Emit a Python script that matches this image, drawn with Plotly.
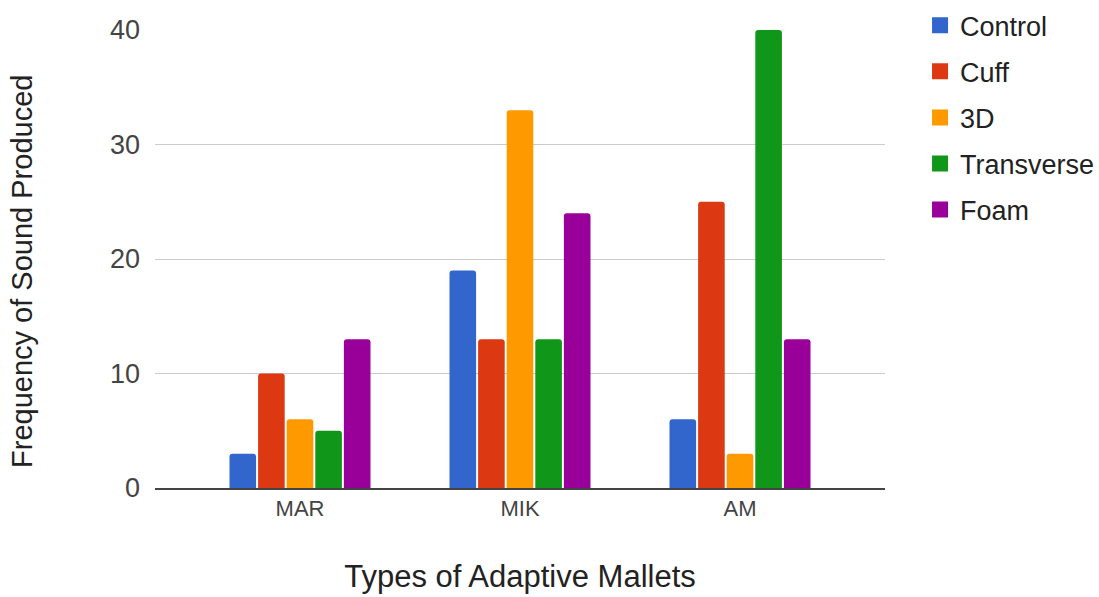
import plotly.graph_objects as go

categories = ["MAR", "MIK", "AM"]
series_names = ["Control", "Cuff", "3D", "Transverse", "Foam"]
control = [3, 19, 6]
cuff = [10, 13, 25]
three_d = [6, 33, 3]
transverse = [5, 13, 40]
foam = [13, 24, 13]
y_ticks = [0, 10, 20, 30, 40]

colors = ["#3366cc", "#dc3912", "#ff9900", "#109618", "#990099"]
values = [control, cuff, three_d, transverse, foam]

fig = go.Figure()
for name, vals, col in zip(series_names, values, colors):
    fig.add_trace(go.Bar(x=categories, y=vals, name=name, marker_color=col,
                         marker_line_width=0, showlegend=False, legendgroup=name))
    # square legend swatch
    fig.add_trace(go.Scatter(x=[None], y=[None], mode="markers", name=name,
                             legendgroup=name,
                             marker=dict(symbol="square", size=21, color=col)))

font_family = "Liberation Sans, Arial, sans-serif"
fig.update_layout(
    width=1099, height=597,
    margin=dict(l=155, r=214, t=30, b=109, autoexpand=False),
    paper_bgcolor="white", plot_bgcolor="white",
    barmode="group", bargap=0.35, bargroupgap=0.07, barcornerradius=3,
    font=dict(family=font_family, color="#444444"),
    xaxis=dict(
        range=[-0.659, 2.659],
        tickfont=dict(size=22, color="#444444"),
        showgrid=False, showline=True, linecolor="#444444", linewidth=2,
        ticks="", zeroline=False,
        title=dict(text="Types of Adaptive Mallets", font=dict(size=31, color="#222222"),
                   standoff=45),
    ),
    yaxis=dict(
        range=[0, 40], tickvals=y_ticks,
        tickfont=dict(size=27, color="#444444"),
        showgrid=True, gridcolor="#cccccc", gridwidth=1,
        zeroline=False, showline=False, ticks="", ticklabelstandoff=14,
    ),
    annotations=[dict(
        text="Frequency of Sound Produced", textangle=-90,
        xref="paper", yref="paper", x=-0.182, y=0.472,
        xanchor="center", yanchor="middle", showarrow=False,
        font=dict(size=29, color="#222222"),
    )],
    legend=dict(
        x=1.048, y=1.063, xanchor="left", yanchor="top",
        font=dict(size=27, color="#222222"),
        itemsizing="trace", tracegroupgap=8,
    ),
)

fig.write_html("out.html")
